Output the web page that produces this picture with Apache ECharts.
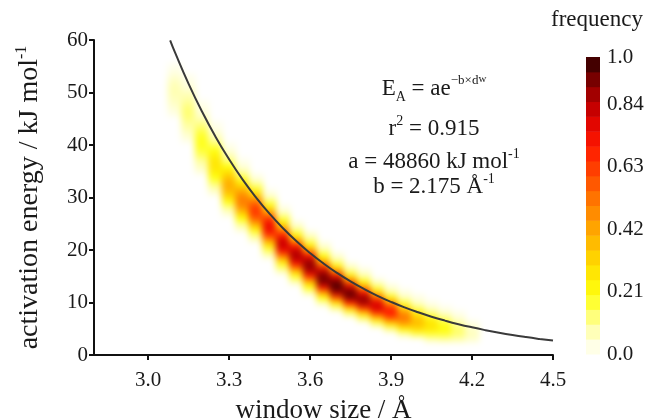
<!DOCTYPE html>
<html><head><meta charset="utf-8">
<script src="https://cdn.jsdelivr.net/npm/echarts@6/dist/echarts.min.js"></script>
<style>
html,body{margin:0;padding:0;background:#fff}
#c{width:651px;height:419px}
#c canvas[data-zr-dom-id="zr_0"]{filter:blur(3px)}
</style>
</head><body><div id="c"></div>
<script>
// ---- data ----
const xTicks = [3.0, 3.3, 3.6, 3.9, 4.2, 4.5];
const cbTicks = [0, 0.21, 0.42, 0.63, 0.84, 1.0];
const cbLevels = [0.025,0.075,0.125,0.175,0.225,0.275,0.325,0.375,0.425,0.475,0.525,0.575,0.625,0.675,0.725,0.775,0.825,0.875,0.925,0.975];
// fit parameters shown in the annotation
const fitA = 48860, fitB = 2.175, fitR2 = 0.915;
// heat-map columns: window size centre, lowest energy cell, frequencies per 1 kJ/mol cell upward
const hmX = [3.10,3.15,3.20,3.25,3.30,3.35,3.40,3.45,3.50,3.55,3.60,3.65,3.70,3.75,3.80,3.85,3.90,3.95,4.00,4.05,4.10,4.15,4.20];
const hmStart = [46,41,35,31,27,24,22,19,16,14,12,10,9,8,7,6,5,4,4,3,3,3,3];
const hmFreq = [
  [0.03,0.04,0.06,0.07,0.08,0.08,0.07,0.05,0.03,0.02],
  [0.03,0.05,0.08,0.10,0.12,0.13,0.13,0.11,0.09,0.07,0.04,0.03,0.02],
  [0.04,0.07,0.10,0.14,0.17,0.19,0.19,0.18,0.15,0.12,0.08,0.05,0.03,0.02],
  [0.05,0.09,0.15,0.20,0.25,0.27,0.27,0.24,0.20,0.15,0.10,0.06,0.03,0.02],
  [0.05,0.10,0.18,0.28,0.36,0.40,0.40,0.35,0.28,0.20,0.13,0.08,0.04,0.02],
  [0.05,0.11,0.20,0.32,0.44,0.50,0.50,0.44,0.35,0.25,0.16,0.09,0.04,0.02],
  [0.06,0.13,0.24,0.40,0.55,0.63,0.63,0.55,0.42,0.28,0.16,0.08,0.03],
  [0.07,0.15,0.28,0.45,0.64,0.74,0.74,0.64,0.48,0.30,0.17,0.08,0.03],
  [0.07,0.16,0.30,0.52,0.74,0.82,0.80,0.66,0.48,0.30,0.17,0.08,0.03],
  [0.08,0.18,0.35,0.60,0.80,0.86,0.82,0.66,0.40,0.22,0.11,0.04],
  [0.09,0.20,0.38,0.64,0.84,0.90,0.87,0.72,0.44,0.24,0.12,0.05],
  [0.08,0.20,0.44,0.74,0.92,0.92,0.85,0.62,0.38,0.20,0.10,0.04],
  [0.11,0.28,0.58,0.87,0.96,0.93,0.78,0.48,0.24,0.11,0.04],
  [0.13,0.33,0.68,0.91,0.94,0.82,0.56,0.30,0.13,0.05],
  [0.13,0.32,0.63,0.87,0.89,0.72,0.45,0.22,0.10,0.04],
  [0.13,0.32,0.61,0.80,0.78,0.57,0.32,0.15,0.05],
  [0.11,0.29,0.55,0.70,0.66,0.46,0.24,0.10,0.04],
  [0.08,0.23,0.42,0.52,0.48,0.33,0.17,0.07,0.03],
  [0.15,0.29,0.37,0.35,0.26,0.14,0.06,0.03],
  [0.07,0.17,0.26,0.28,0.23,0.13,0.06,0.02],
  [0.09,0.17,0.21,0.19,0.13,0.06,0.02],
  [0.08,0.13,0.14,0.10,0.05,0.02],
  [0.05,0.07,0.06,0.03]
];
// fitted curve E_A = a e^(-b d_w)
const curveX = [3.082,3.10,3.15,3.20,3.25,3.30,3.35,3.40,3.45,3.50,3.55,3.60,3.65,3.70,3.75,3.80,3.85,3.90,3.95,4.00,4.05,4.10,4.15,4.20,4.25,4.30,4.35,4.40,4.45,4.50];
const curveE = [59.94,57.64,51.70,46.37,41.59,37.31,33.46,30.02,26.92,24.15,21.66,19.43,17.43,15.63,14.02,12.58,11.28,10.12,9.07,8.14,7.30,6.55,5.87,5.27,4.73,4.24,3.80,3.41,3.06,2.74];

// ---- build ----
const hmData = [];
hmX.forEach((x, i) => hmFreq[i].forEach((f, j) => hmData.push([x, hmStart[i] + j, f])));
const curveData = curveX.map((x, i) => [x, curveE[i]]);
const cbData = cbLevels.map(v => [0.5, v, v]);

const DX = 0.05, DY = 1, CB = 0.05;
const serif = 'Liberation Serif, Times New Roman, serif';
const ink = '#1a1a1a';
const chart = echarts.init(document.getElementById('c'), null, {renderer: 'canvas'});
const supText = (t, y) => ({type: 'text', x: 434, y: y, zlevel: 1, style: {
  text: t, align: 'center', verticalAlign: 'middle',
  rich: {
    n: {fontFamily: serif, fontSize: 23, fill: ink, lineHeight: 30},
    sup: {fontFamily: serif, fontSize: 14, fill: ink, verticalAlign: 'top', lineHeight: 10},
    sub: {fontFamily: serif, fontSize: 14, fill: ink, verticalAlign: 'bottom', lineHeight: 10},
    ssup: {fontFamily: serif, fontSize: 13, fill: ink, verticalAlign: 'top', lineHeight: 6},
    ssub: {fontFamily: serif, fontSize: 11, fill: ink, verticalAlign: 'top', lineHeight: 16}
  }}});
chart.setOption({
  animation: false,
  backgroundColor: '#fff',
  grid: [
    {left: 94, right: 98, top: 40, bottom: 64, zlevel: 1, containLabel: false, outerBoundsMode: 'none'},
    {left: 586, top: 57, width: 14, height: 297, zlevel: 1, containLabel: false, outerBoundsMode: 'none'}
  ],
  xAxis: [
    {type: 'value', gridIndex: 0, min: 2.8, max: 4.5, zlevel: 1,
     name: 'window size / Å', nameLocation: 'middle', nameGap: 42,
     nameTextStyle: {fontFamily: serif, fontSize: 27, color: ink},
     axisLine: {lineStyle: {color: '#111', width: 2}},
     axisTick: {customValues: xTicks, length: 5, lineStyle: {width: 2, color: '#111'}},
     axisLabel: {customValues: xTicks, formatter: v => v.toFixed(1), fontFamily: serif, fontSize: 21, color: ink, margin: 15},
     splitLine: {show: false}},
    {type: 'value', gridIndex: 1, min: 0, max: 1, show: false, zlevel: 1}
  ],
  yAxis: [
    {type: 'value', gridIndex: 0, min: 0, max: 60, interval: 10, zlevel: 1,
     name: '{b|activation energy / kJ mol}{s|-1}', nameLocation: 'middle', nameGap: 48,
     nameTextStyle: {rich: {
       b: {fontFamily: serif, fontSize: 28, color: ink, lineHeight: 32},
       s: {fontFamily: serif, fontSize: 16, color: ink, verticalAlign: 'top', lineHeight: 14}
     }},
     axisLine: {lineStyle: {color: '#111', width: 2}},
     axisTick: {length: 5, lineStyle: {width: 2, color: '#111'}},
     axisLabel: {fontFamily: serif, fontSize: 21, color: ink, margin: 6},
     splitLine: {show: false}},
    {type: 'value', gridIndex: 1, min: 0, max: 1, position: 'right', zlevel: 1,
     axisLine: {show: false}, axisTick: {show: false}, splitLine: {show: false},
     axisLabel: {customValues: cbTicks, formatter: v => (v === 0 ? '0.0' : v === 1 ? '1.0' : String(v)),
       fontFamily: serif, fontSize: 21, color: ink, margin: 7}}
  ],
  visualMap: {
    type: 'continuous', show: false, min: 0, max: 1, dimension: 2, seriesIndex: [0, 2],
    inRange: {color: ['#ffffff','#ffffa0','#ffff10','#ffdd00','#ffb000','#ff8000','#ff4a00','#ff1800','#d80000','#900000','#2a0000']}
  },
  series: [
    {type: 'custom', xAxisIndex: 0, yAxisIndex: 0, data: hmData, clip: true, zlevel: 0,
     encode: {x: 0, y: 1},
     renderItem: (params, api) => {
       const x = api.value(0), y = api.value(1);
       const p0 = api.coord([x - DX / 2, y + DY / 2]);
       const p1 = api.coord([x + DX / 2, y - DY / 2]);
       return {type: 'rect', shape: {x: p0[0] - 0.5, y: p0[1] - 0.5, width: p1[0] - p0[0] + 1, height: p1[1] - p0[1] + 1},
               style: {fill: api.visual('color')}};
     }},
    {type: 'line', xAxisIndex: 0, yAxisIndex: 0, data: curveData, smooth: true, showSymbol: false, zlevel: 1,
     lineStyle: {color: '#3a3a3a', width: 2}, z: 5},
    {type: 'custom', xAxisIndex: 1, yAxisIndex: 1, data: cbData, encode: {x: 0, y: 1}, zlevel: 1,
     renderItem: (params, api) => {
       const v = api.value(1);
       const p0 = api.coord([0, v + CB / 2]);
       const p1 = api.coord([1, v - CB / 2]);
       return {type: 'rect', shape: {x: p0[0], y: p0[1], width: p1[0] - p0[0], height: p1[1] - p0[1] + 0.5},
               style: {fill: api.visual('color')}};
     }}
  ],
  graphic: [
    {type: 'text', x: 597, y: 20, zlevel: 1, style: {text: 'frequency', font: '23px ' + serif, fill: ink, align: 'center', verticalAlign: 'middle'}},
    supText('{n|E}{sub|A}{n| = ae}{ssup|−b×d}{ssub|w}', 89),
    supText('{n|r}{sup|2}{n| = ' + fitR2 + '}', 129),
    supText('{n|a = ' + fitA + ' kJ mol}{sup|-1}', 162),
    supText('{n|b = ' + fitB + ' Å}{sup|-1}', 187)
  ]
});
</script>
</body></html>
